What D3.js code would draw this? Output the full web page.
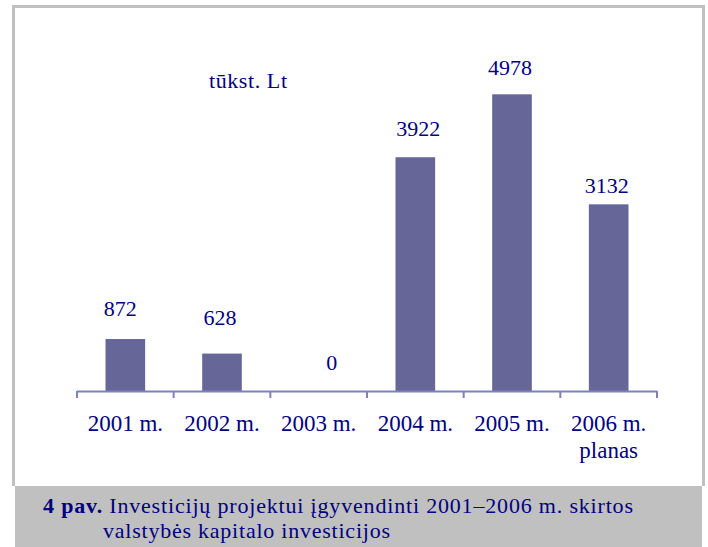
<!DOCTYPE html>
<html>
<head>
<meta charset="utf-8">
<script src="https://cdn.jsdelivr.net/npm/d3@7"></script>
<style>
  body { margin: 0; background: #fff; }
  svg { display: block; }
</style>
</head>
<body>
<svg id="chart" width="708" height="547" font-family="Liberation Serif"></svg>
<script>
// ===== data =====
const categories = ['2001 m.', '2002 m.', '2003 m.', '2004 m.', '2005 m.', '2006 m.'];
const subLabels  = ['', '', '', '', '', 'planas'];
const values     = [872, 628, 0, 3922, 4978, 3132];
const unitLabel  = 'tūkst. Lt';
const captionBold = '4 pav.';
const captionLines = ['Investicijų projektui įgyvendinti 2001–2006 m. skirtos', 'valstybės kapitalo investicijos'];

// value labels were hand placed in the original: gap above bar, sideways shift
const labelGap   = [23, 29, 21, 21, 19, 11];
const labelShift = [-5, -2, 13, 3, -2, -2];

const FONT = 'Liberation Serif';
const INK = '#000080';

const svg = d3.select('#chart');

// frame
svg.append('path')
  .attr('d', 'M13.5,486V6.5H703.5V486')
  .attr('fill', 'none')
  .attr('stroke', '#c0c0c0')
  .attr('stroke-width', 3);

svg.append('rect')
  .attr('x', 15).attr('y', 486)
  .attr('width', 687).attr('height', 61)
  .attr('fill', '#c0c0c0');

// scales
const x = d3.scaleBand()
  .domain(categories)
  .range([77, 657])
  .paddingInner(0.59)
  .paddingOuter(0.295);

const y = d3.scaleLinear()
  .domain([0, 6000])
  .range([391, 33.4]);

// bars
svg.append('g').selectAll('rect')
  .data(values)
  .join('rect')
    .attr('x', (d, i) => x(categories[i]))
    .attr('y', d => y(d))
    .attr('width', x.bandwidth())
    .attr('height', d => y(0) - y(d))
    .attr('fill', '#666699');

// value labels
svg.append('g').selectAll('text')
  .data(values)
  .join('text')
    .attr('x', (d, i) => x(categories[i]) + x.bandwidth() / 2 + labelShift[i])
    .attr('y', (d, i) => y(d) - labelGap[i])
    .attr('text-anchor', 'middle')
    .attr('font-family', FONT)
    .attr('font-size', 22)
    .attr('fill', INK)
    .text(d => d);

// x axis: ticks on category boundaries
const axis = svg.append('g');
axis.append('line')
  .attr('x1', 77).attr('x2', 657)
  .attr('y1', 391.5).attr('y2', 391.5)
  .attr('stroke', '#8080c0').attr('stroke-width', 2);

const edges = categories.map(c => x(c) - x.step() * x.paddingInner() / 2).concat([657]);
axis.selectAll('.tick')
  .data(edges)
  .join('line')
    .attr('class', 'tick')
    .attr('x1', d => d).attr('x2', d => d)
    .attr('y1', 391).attr('y2', 398)
    .attr('stroke', '#8080c0').attr('stroke-width', 2);

axis.selectAll('.cat')
  .data(categories)
  .join('text')
    .attr('class', 'cat')
    .attr('x', d => x(d) + x.bandwidth() / 2)
    .attr('y', 431)
    .attr('text-anchor', 'middle')
    .attr('font-family', FONT)
    .attr('font-size', 23)
    .attr('fill', INK)
    .text(d => d);

axis.selectAll('.sub')
  .data(subLabels)
  .join('text')
    .attr('class', 'sub')
    .attr('x', (d, i) => x(categories[i]) + x.bandwidth() / 2)
    .attr('y', 458)
    .attr('text-anchor', 'middle')
    .attr('font-family', FONT)
    .attr('font-size', 23)
    .attr('fill', INK)
    .text(d => d);

// unit label
svg.append('text')
  .attr('x', 209).attr('y', 88)
  .attr('font-family', FONT)
  .attr('font-size', 22)
  .attr('textLength', 78)
  .attr('fill', INK)
  .text(unitLabel);

// caption (reference text is set a bit loose)
const cap = svg.append('text')
  .attr('x', 43).attr('y', 513)
  .attr('font-family', FONT)
  .attr('font-size', 22)
  .attr('textLength', 590)
  .attr('lengthAdjust', 'spacing')
  .attr('fill', INK);
cap.append('tspan').attr('font-weight', 'bold').text(captionBold);
cap.append('tspan').text(' ' + captionLines[0]);

svg.append('text')
  .attr('x', 103).attr('y', 538)
  .attr('font-family', FONT)
  .attr('font-size', 22)
  .attr('textLength', 287)
  .attr('lengthAdjust', 'spacing')
  .attr('fill', INK)
  .text(captionLines[1]);
</script>
</body>
</html>
